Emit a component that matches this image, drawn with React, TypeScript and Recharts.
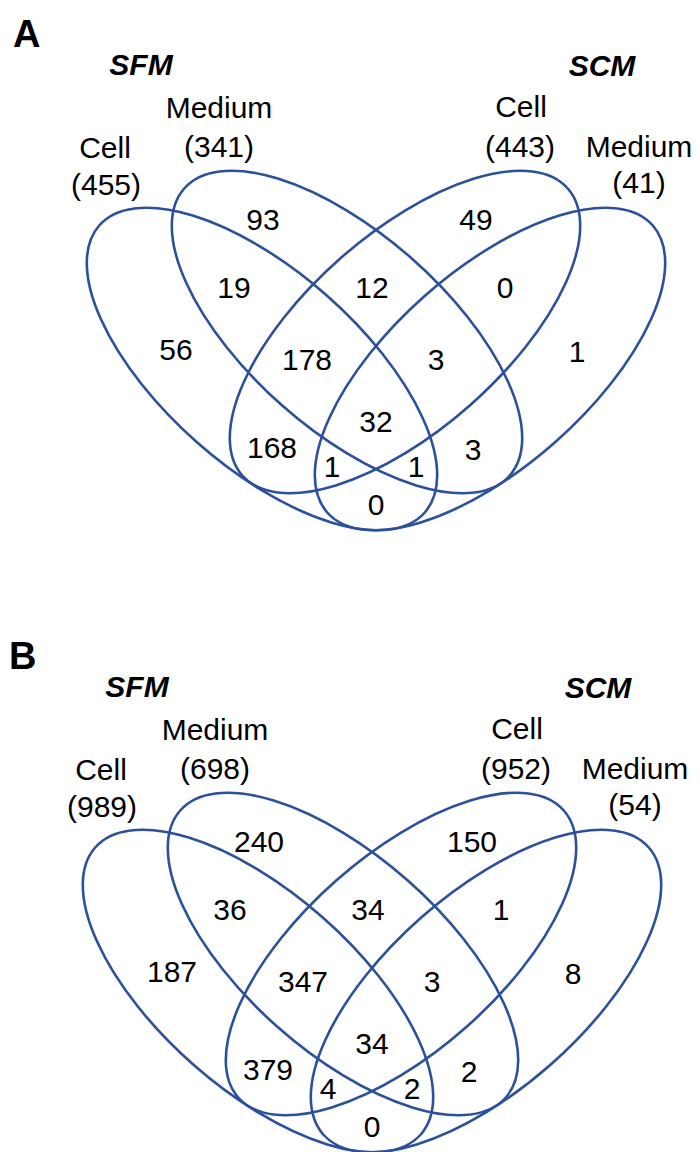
import React from "react";
import { ScatterChart, Scatter, XAxis, YAxis } from "recharts";

// sets: SFM Cell, SFM Medium, SCM Cell, SCM Medium
const GROUPS = ["SFM", "SCM"];
const SET_NAMES = ["Cell", "Medium", "Cell", "Medium"];
const TOTALS_A = [455, 341, 443, 41];
const TOTALS_B = [989, 698, 952, 54];

// region = which sets it belongs to (1..4)
const REGION_KEYS = ["1", "2", "3", "4", "12", "23", "34", "123", "234", "1234", "13", "24", "134", "124", "14"];
const COUNTS_A = [56, 93, 49, 1, 19, 12, 0, 178, 3, 32, 168, 3, 1, 1, 0];
const COUNTS_B = [187, 240, 150, 8, 36, 34, 1, 347, 3, 34, 379, 2, 4, 2, 0];

// diagram layout, in diagram units (origin at centre of the 4-set figure, y down)
const X_DOMAIN: [number, number] = [-376, 324];
const Y_DOMAIN: [number, number] = [-350, 210];
const W = 700;
const H = 560;
const PX = W / (X_DOMAIN[1] - X_DOMAIN[0]);

const ELLIPSES = [
  { x: -114, y: 19, a: 217, b: 98, angle: 41.4 },
  { x: -29, y: -18, a: 217, b: 98, angle: 41.4 },
  { x: 29, y: -18, a: 217, b: 98, angle: -41.4 },
  { x: 114, y: 19, a: 217, b: 98, angle: -41.4 },
];

const REGION_POS: Record<string, [number, number]> = {
  "1": [-200, 10],
  "2": [-113, -120],
  "3": [100, -120],
  "4": [201, 12],
  "12": [-142, -52],
  "23": [-4, -52],
  "34": [129, -52],
  "123": [-69, 20],
  "234": [60, 20],
  "1234": [0, 82],
  "13": [-104, 108],
  "24": [97, 110],
  "134": [-44, 127],
  "124": [40, 127],
  "14": [0, 165],
};

const NAME_POS: [number, number][] = [[-271, -192], [-157, -232], [145, -233], [263, -193]];
const TOTAL_POS: [number, number][] = [[-270, -155], [-157, -193], [144, -193], [263, -157]];
const GROUP_POS: [number, number][] = [[-235, -275], [226, -274]];
const LETTER_POS: [number, number] = [-363, -303];

const BLUE = "#2b519b";
const FONT = "'Liberation Sans', Arial, Helvetica, sans-serif";

function EllipseShape(props: any) {
  const { cx, cy, payload } = props;
  return (
    <ellipse
      cx={cx}
      cy={cy}
      rx={payload.a * PX}
      ry={payload.b * PX}
      transform={`rotate(${payload.angle} ${cx} ${cy})`}
      fill="none"
      stroke={BLUE}
      strokeWidth={2.6}
    />
  );
}

function TextShape(props: any) {
  const { cx, cy, payload } = props;
  return (
    <text
      x={cx}
      y={cy}
      textAnchor={payload.anchor || "middle"}
      fontFamily={FONT}
      fontSize={payload.size || 30}
      fontWeight={payload.bold ? "bold" : "normal"}
      fontStyle={payload.italic ? "italic" : "normal"}
      fill="#000"
    >
      {payload.text}
    </text>
  );
}

function VennPanel({ letter, totals, counts }: { letter: string; totals: number[]; counts: number[] }) {
  const regions = REGION_KEYS.map((k, i) => ({ x: REGION_POS[k][0], y: REGION_POS[k][1], text: String(counts[i]) }));
  const names = SET_NAMES.map((n, i) => ({ x: NAME_POS[i][0], y: NAME_POS[i][1], text: n }));
  const totalLabels = totals.map((t, i) => ({ x: TOTAL_POS[i][0], y: TOTAL_POS[i][1], text: `(${t})` }));
  const groups = GROUPS.map((g, i) => ({ x: GROUP_POS[i][0], y: GROUP_POS[i][1], text: g, bold: true, italic: true }));
  const title = [{ x: LETTER_POS[0], y: LETTER_POS[1], text: letter, bold: true, size: 38, anchor: "start" }];

  return (
    <ScatterChart width={W} height={H} margin={{ top: 0, right: 0, bottom: 0, left: 0 }}>
      <XAxis type="number" dataKey="x" domain={X_DOMAIN} hide />
      <YAxis type="number" dataKey="y" domain={Y_DOMAIN} reversed hide />
      <Scatter data={ELLIPSES} shape={EllipseShape} isAnimationActive={false} />
      <Scatter data={regions} shape={TextShape} isAnimationActive={false} />
      <Scatter data={names} shape={TextShape} isAnimationActive={false} />
      <Scatter data={totalLabels} shape={TextShape} isAnimationActive={false} />
      <Scatter data={groups} shape={TextShape} isAnimationActive={false} />
      <Scatter data={title} shape={TextShape} isAnimationActive={false} />
    </ScatterChart>
  );
}

export default function App() {
  return (
    <div style={{ position: "absolute", left: 0, top: 0, width: 700, height: 1152, overflow: "hidden", background: "#fff" }}>
      <div style={{ position: "absolute", left: 0, top: 0 }}>
        <VennPanel letter="A" totals={TOTALS_A} counts={COUNTS_A} />
      </div>
      <div style={{ position: "absolute", left: -4, top: 622 }}>
        <VennPanel letter="B" totals={TOTALS_B} counts={COUNTS_B} />
      </div>
    </div>
  );
}
